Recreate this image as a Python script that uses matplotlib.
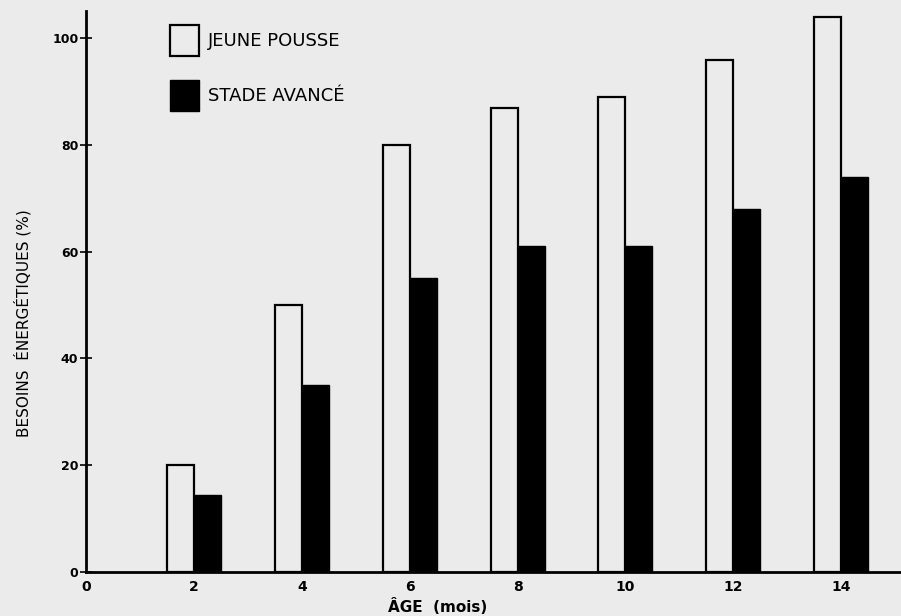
import matplotlib
matplotlib.use("Agg")
import matplotlib.pyplot as plt
import numpy as np

AGE_MONTHS = [2, 4, 6, 8, 10, 12, 14]
JEUNE_POUSSE = [20, 50, 80, 87, 89, 96, 104]
STADE_AVANCE = [14.5, 35, 55, 61, 61, 68, 74]
Y_TICKS = [0, 20, 40, 60, 80, 100]
X_TICKS = [0, 2, 4, 6, 8, 10, 12, 14]

BG = "#ebebeb"

fig = plt.figure(figsize=(9.01, 6.16), dpi=100, facecolor=BG)
ax = fig.add_axes([0.0955, 0.0714, 0.91, 0.91])
ax.set_facecolor(BG)

x = np.array(AGE_MONTHS, dtype=float)
width = 0.5
ax.bar(x - width / 2, JEUNE_POUSSE, width, color=BG, edgecolor="black",
       linewidth=1.6, label="JEUNE POUSSE")
ax.bar(x + width / 2, STADE_AVANCE, width, color="black", edgecolor="black",
       linewidth=1.0, label="STADE AVANCÉ")

ax.set_xlim(0, 15.2)
ax.set_ylim(0, 105)

for side in ["top", "right"]:
    ax.spines[side].set_visible(False)
for side in ["left", "bottom"]:
    ax.spines[side].set_linewidth(2.0)

ax.set_yticks(Y_TICKS)
ax.set_yticklabels([str(v) for v in Y_TICKS], fontsize=9, fontweight="bold")
ax.tick_params(axis="y", direction="inout", length=9, width=1.2, pad=1)
ax.set_xticks(X_TICKS)
ax.set_xticklabels([str(v) for v in X_TICKS], fontsize=10, fontweight="bold")
ax.tick_params(axis="x", length=0, pad=6)

fig.text(0.025, 0.475, "BESOINS  ÉNERGÉTIQUES (%)", rotation=90,
         ha="center", va="center", fontsize=11)
fig.text(0.486, 0.015, "ÂGE  (mois)", ha="center", va="center",
         fontsize=11, fontweight="bold")

leg = ax.legend(loc="upper left", bbox_to_anchor=(0.083, 1.005), frameon=False,
                fontsize=13, handlelength=1.6, handleheight=2.3,
                labelspacing=1.3, handletextpad=0.5)

fig.savefig("out.png", dpi=100, facecolor=BG)
